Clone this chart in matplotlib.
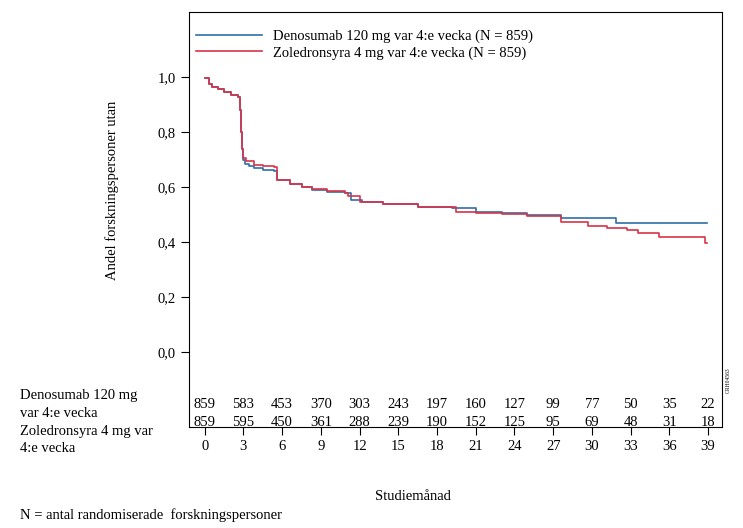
import numpy as np
import matplotlib.pyplot as plt

plt.rcParams['font.family'] = ['Liberation Serif', 'DejaVu Serif']

# Kaplan-Meier estimates (months, survival proportion)
deno_t = [0, 0.3, 0.6, 1.0, 1.5, 2.0, 2.6, 2.7, 2.8, 2.9, 3.0, 3.1, 3.4, 3.8, 4.5, 5.4, 5.6, 6.6, 7.5, 8.3, 9.5, 10.9, 11.3, 12.2, 13.8, 16.5, 19.2, 21.0, 23.0, 25.0, 27.6, 31.9, 38.9]
deno_s = [0.995, 0.975, 0.965, 0.955, 0.945, 0.935, 0.928, 0.88, 0.80, 0.74, 0.70, 0.685, 0.675, 0.669, 0.663, 0.657, 0.625, 0.612, 0.600, 0.590, 0.582, 0.578, 0.553, 0.547, 0.540, 0.528, 0.523, 0.511, 0.505, 0.499, 0.486, 0.468, 0.468]
zol_t = [0, 0.3, 0.6, 1.0, 1.5, 2.0, 2.6, 2.7, 2.8, 2.9, 3.0, 3.2, 3.8, 4.5, 5.4, 5.6, 6.6, 7.5, 8.3, 9.5, 10.9, 11.1, 12.0, 13.8, 16.5, 19.5, 21.0, 23.0, 25.0, 27.6, 29.0, 29.7, 31.2, 32.7, 33.6, 35.2, 38.8, 38.9]
zol_s = [0.995, 0.975, 0.965, 0.955, 0.945, 0.935, 0.928, 0.88, 0.80, 0.74, 0.705, 0.693, 0.680, 0.675, 0.673, 0.625, 0.612, 0.600, 0.592, 0.585, 0.580, 0.567, 0.547, 0.540, 0.528, 0.511, 0.507, 0.503, 0.495, 0.474, 0.472, 0.460, 0.450, 0.445, 0.432, 0.420, 0.396, 0.396]

risk_months = [0, 3, 6, 9, 12, 15, 18, 21, 24, 27, 30, 33, 36, 39]
deno_risk = [859, 583, 453, 370, 303, 243, 197, 160, 127, 99, 77, 50, 35, 22]
zol_risk = [859, 595, 450, 361, 288, 239, 190, 152, 125, 95, 69, 48, 31, 18]

fig = plt.figure(figsize=(7.43, 5.28), dpi=100)
ax = fig.add_axes([0.254, 0.191, 0.718, 0.786])

ax.step(deno_t, deno_s, where='post', color='#2f6fa8', lw=1.2,
        label='Denosumab 120 mg var 4:e vecka (N = 859)')
ax.step(zol_t, zol_s, where='post', color='#d8344a', lw=1.2,
        label='Zoledronsyra 4 mg var 4:e vecka (N = 859)')

ax.set_xlim(-1.24, 40.1)
ax.set_ylim(-0.273, 1.236)
ax.set_xticks(risk_months)
ax.set_yticks([0, 0.2, 0.4, 0.6, 0.8, 1.0])
ax.set_yticklabels(['0,0', '0,2', '0,4', '0,6', '0,8', '1,0'])
ax.tick_params(labelsize=10.5, direction='out', length=6)
ax.set_ylabel('Andel forskningspersoner utan', fontsize=10.5)
ax.yaxis.set_label_coords(-0.13, 0.57)

for m, a, b in zip(risk_months, deno_risk, zol_risk):
    ax.text(m, -0.19, str(a), ha='center', va='center', fontsize=10.5)
    ax.text(m, -0.255, str(b), ha='center', va='center', fontsize=10.5)

leg = ax.legend(loc='upper left', frameon=False, fontsize=10.5,
                handlelength=4.5, bbox_to_anchor=(0.0, 0.975),
                borderaxespad=0.1, labelspacing=0.2)

for i, s in enumerate(['Denosumab 120 mg', 'var 4:e vecka', 'Zoledronsyra 4 mg var', '4:e vecka']):
    fig.text(20 / 743, 1 - (396 + 17.5 * i) / 528, s, fontsize=10.5, va='center')

fig.text(413 / 743, 1 - 497 / 528, 'Studiemånad', fontsize=10.5, ha='center', va='center')
fig.text(20 / 743, 1 - 515 / 528, 'N = antal randomiserade  forskningspersoner', fontsize=10.5, va='center')
fig.text(728 / 743, 1 - 380 / 528, 'GRH04563', fontsize=4, rotation=90, ha='center', va='center')

fig.savefig('out.png', dpi=100)
